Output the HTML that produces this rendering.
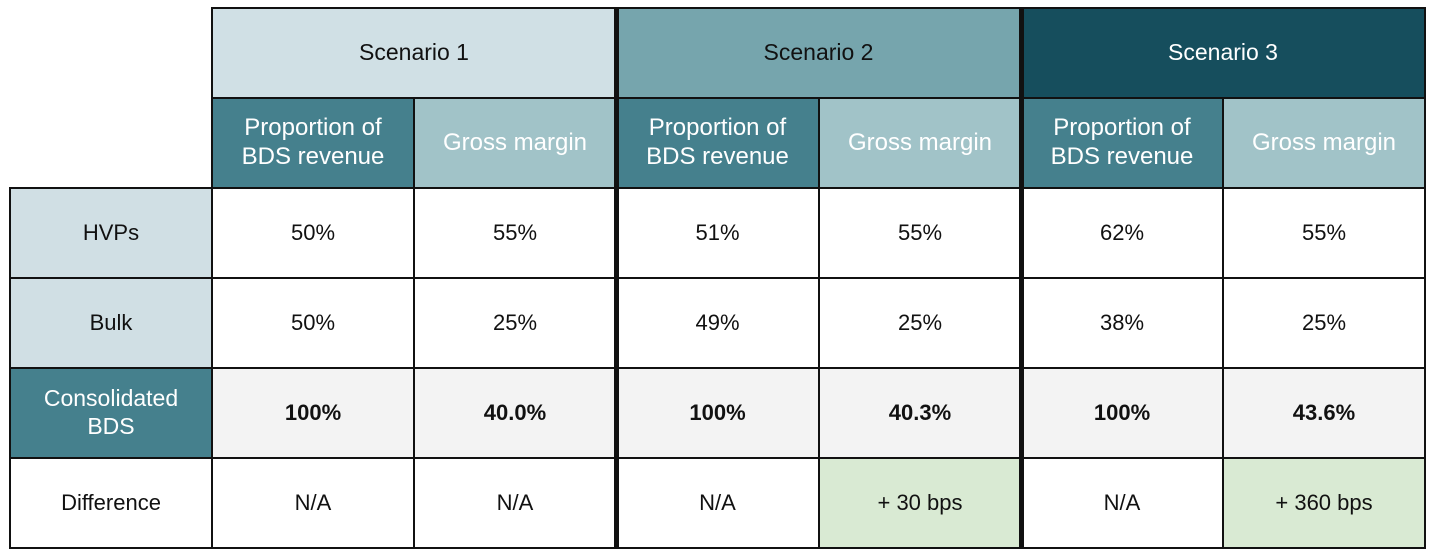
<!DOCTYPE html>
<html><head><meta charset="utf-8"><style>
body{margin:0;width:1436px;height:558px;background:#fff;position:relative;overflow:hidden;font-family:"Liberation Sans",sans-serif}
.c{position:absolute;display:flex;align-items:center;justify-content:center;text-align:center;font-size:22px;color:#111;line-height:1.2}
.l{position:absolute;background:#111}
.b{font-weight:bold}
.w{color:#fff}
</style></head><body>
<!-- scenario headers -->
<div class="c" style="left:212px;top:8px;width:404px;height:90px;background:#d0e0e5;font-size:23px">Scenario 1</div>
<div class="c" style="left:616px;top:8px;width:405px;height:90px;background:#76a5ad;font-size:23px">Scenario 2</div>
<div class="c w" style="left:1021px;top:8px;width:404px;height:90px;background:#164e5d;font-size:23px">Scenario 3</div>
<!-- subheaders -->
<div class="c w" style="left:212px;top:98px;width:202px;height:90px;background:#45808d;font-size:24px">Proportion of<br>BDS revenue</div>
<div class="c w" style="left:414px;top:98px;width:202px;height:90px;background:#a1c3c8;font-size:24px">Gross margin</div>
<div class="c w" style="left:616px;top:98px;width:203px;height:90px;background:#45808d;font-size:24px">Proportion of<br>BDS revenue</div>
<div class="c w" style="left:819px;top:98px;width:202px;height:90px;background:#a1c3c8;font-size:24px">Gross margin</div>
<div class="c w" style="left:1021px;top:98px;width:202px;height:90px;background:#45808d;font-size:24px">Proportion of<br>BDS revenue</div>
<div class="c w" style="left:1223px;top:98px;width:202px;height:90px;background:#a1c3c8;font-size:24px">Gross margin</div>
<!-- row headers -->
<div class="c" style="left:10px;top:188px;width:202px;height:90px;background:#d0dfe4">HVPs</div>
<div class="c" style="left:10px;top:278px;width:202px;height:90px;background:#d0dfe4">Bulk</div>
<div class="c w" style="left:10px;top:368px;width:202px;height:90px;background:#45808d;font-size:23px">Consolidated<br>BDS</div>
<div class="c" style="left:10px;top:458px;width:202px;height:90px">Difference</div>
<!-- HVPs -->
<div class="c" style="left:212px;top:188px;width:202px;height:90px">50%</div>
<div class="c" style="left:414px;top:188px;width:202px;height:90px">55%</div>
<div class="c" style="left:616px;top:188px;width:203px;height:90px">51%</div>
<div class="c" style="left:819px;top:188px;width:202px;height:90px">55%</div>
<div class="c" style="left:1021px;top:188px;width:202px;height:90px">62%</div>
<div class="c" style="left:1223px;top:188px;width:202px;height:90px">55%</div>
<!-- Bulk -->
<div class="c" style="left:212px;top:278px;width:202px;height:90px">50%</div>
<div class="c" style="left:414px;top:278px;width:202px;height:90px">25%</div>
<div class="c" style="left:616px;top:278px;width:203px;height:90px">49%</div>
<div class="c" style="left:819px;top:278px;width:202px;height:90px">25%</div>
<div class="c" style="left:1021px;top:278px;width:202px;height:90px">38%</div>
<div class="c" style="left:1223px;top:278px;width:202px;height:90px">25%</div>
<!-- Consolidated -->
<div class="c b" style="left:212px;top:368px;width:202px;height:90px;background:#f3f3f3">100%</div>
<div class="c b" style="left:414px;top:368px;width:202px;height:90px;background:#f3f3f3">40.0%</div>
<div class="c b" style="left:616px;top:368px;width:203px;height:90px;background:#f3f3f3">100%</div>
<div class="c b" style="left:819px;top:368px;width:202px;height:90px;background:#f3f3f3">40.3%</div>
<div class="c b" style="left:1021px;top:368px;width:202px;height:90px;background:#f3f3f3">100%</div>
<div class="c b" style="left:1223px;top:368px;width:202px;height:90px;background:#f3f3f3">43.6%</div>
<!-- Difference -->
<div class="c" style="left:212px;top:458px;width:202px;height:90px">N/A</div>
<div class="c" style="left:414px;top:458px;width:202px;height:90px">N/A</div>
<div class="c" style="left:616px;top:458px;width:203px;height:90px">N/A</div>
<div class="c" style="left:819px;top:458px;width:202px;height:90px;background:#d9ead3">+ 30 bps</div>
<div class="c" style="left:1021px;top:458px;width:202px;height:90px">N/A</div>
<div class="c" style="left:1223px;top:458px;width:202px;height:90px;background:#d9ead3">+ 360 bps</div>
<!-- horizontal lines -->
<div class="l" style="left:211px;top:7px;width:1215px;height:2px"></div>
<div class="l" style="left:211px;top:97px;width:1215px;height:2px"></div>
<div class="l" style="left:9px;top:187px;width:1417px;height:2px"></div>
<div class="l" style="left:9px;top:277px;width:1417px;height:2px"></div>
<div class="l" style="left:9px;top:367px;width:1417px;height:2px"></div>
<div class="l" style="left:9px;top:457px;width:1417px;height:2px"></div>
<div class="l" style="left:9px;top:547px;width:1417px;height:2px"></div>
<!-- vertical lines -->
<div class="l" style="left:9px;top:187px;width:2px;height:362px"></div>
<div class="l" style="left:211px;top:7px;width:2px;height:542px"></div>
<div class="l" style="left:413px;top:97px;width:2px;height:452px"></div>
<div class="l" style="left:614px;top:7px;width:5px;height:542px"></div>
<div class="l" style="left:818px;top:97px;width:2px;height:452px"></div>
<div class="l" style="left:1019px;top:7px;width:5px;height:542px"></div>
<div class="l" style="left:1222px;top:97px;width:2px;height:452px"></div>
<div class="l" style="left:1424px;top:7px;width:2px;height:542px"></div>
</body></html>
